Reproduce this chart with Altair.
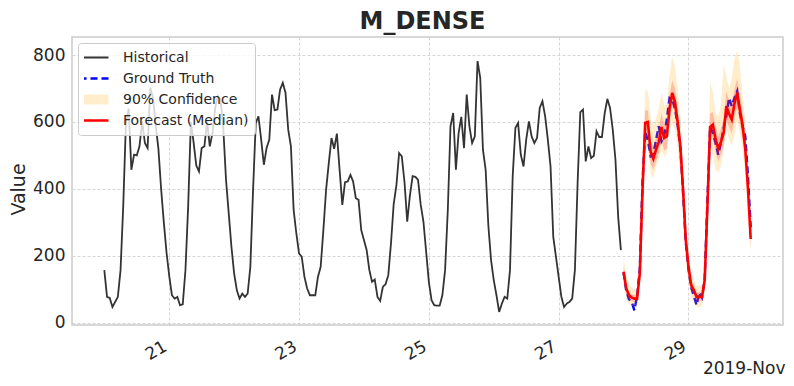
import altair as alt
import pandas as pd

TITLE = "M_DENSE"
Y_TITLE = "Value"
X_TITLE = "2019-Nov"
HIST_START = "2019-11-20 00:00"
FC_START = "2019-11-28 00:00"
X_TICK_DAYS = [21, 23, 25, 27, 29]
Y_TICKS = [0, 200, 400, 600, 800]
SERIES = ["Historical", "Ground Truth", "90% Confidence", "Forecast (Median)"]

historical = [
    157, 77, 74, 47, 62, 77, 157, 350, 600, 640, 457, 502, 500, 527, 602, 537, 522, 702, 672, 590, 520, 400, 300, 210,
    140, 82, 72, 77, 52, 55, 157, 347, 600, 540, 470, 452, 522, 527, 602, 527, 567, 642, 677, 665, 580, 427, 327, 227,
    147, 97, 72, 87, 77, 87, 167, 397, 597, 617, 547, 472, 522, 547, 682, 635, 637, 697, 717, 687, 577, 527, 337, 267,
    207, 197, 137, 102, 82, 82, 82, 137, 167, 277, 397, 477, 552, 520, 565, 457, 352, 420, 422, 442, 422, 372, 367, 277,
    247, 217, 157, 122, 129, 77, 65, 107, 115, 142, 237, 355, 410, 507, 497, 420, 302, 380, 438, 436, 427, 352, 302, 212,
    122, 67, 52, 51, 51, 82, 157, 335, 587, 627, 457, 567, 615, 522, 682, 587, 537, 557, 782, 732, 517, 457, 290, 187,
    127, 82, 32, 57, 77, 72, 157, 437, 582, 597, 502, 467, 547, 602, 557, 537, 552, 642, 662, 617, 547, 467, 257, 197,
    137, 77, 47, 57, 62, 72, 157, 417, 629, 637, 482, 527, 492, 499, 572, 555, 555, 625, 669, 642, 577, 487, 317, 217,
]
ground_truth = [
    150, 95, 70, 62, 37, 80, 160, 420, 570, 545, 497, 502, 547, 587, 542, 557, 610, 672, 667, 640, 590, 520, 390, 240,
    160, 105, 80, 52, 90, 75, 130, 360, 585, 567, 537, 502, 537, 582, 617, 672, 647, 672, 692, 627, 587, 557, 437, 285,
]
median = [
    152, 102, 82, 75, 72, 72, 147, 397, 597, 600, 510, 490, 517, 540, 585, 552, 557, 640, 687, 660, 600, 527, 397, 247,
    167, 112, 97, 77, 77, 77, 127, 347, 585, 592, 550, 520, 540, 567, 647, 625, 607, 655, 687, 637, 590, 520, 400, 250,
]
q95 = [
    195, 140, 115, 105, 100, 105, 190, 470, 697, 692, 617, 587, 610, 640, 690, 650, 650, 740, 795, 765, 700, 610, 470, 300,
    210, 150, 130, 110, 110, 110, 170, 420, 717, 690, 630, 615, 650, 772, 737, 700, 730, 790, 815, 767, 680, 600, 470, 300,
]
q05 = [
    115, 70, 55, 50, 48, 50, 110, 330, 530, 520, 447, 432, 467, 487, 517, 497, 507, 577, 597, 577, 520, 440, 320, 190,
    120, 75, 60, 48, 45, 48, 90, 290, 530, 497, 460, 447, 470, 517, 580, 547, 530, 560, 605, 567, 517, 447, 340, 205,
]
q75 = [
    170, 115, 92, 85, 82, 83, 165, 430, 635, 635, 545, 525, 553, 578, 625, 590, 595, 680, 725, 700, 637, 560, 430, 275,
    185, 127, 110, 90, 90, 90, 145, 380, 625, 630, 588, 558, 580, 610, 690, 665, 650, 698, 730, 680, 630, 560, 435, 275,
]
q25 = [
    135, 88, 70, 64, 62, 62, 130, 365, 560, 560, 475, 457, 482, 505, 548, 515, 520, 600, 650, 622, 563, 493, 365, 220,
    148, 97, 83, 64, 64, 64, 110, 315, 545, 555, 512, 482, 502, 525, 605, 585, 565, 612, 645, 595, 550, 480, 365, 225,
]

fmt = "%Y-%m-%dT%H:%M:%S"
hist_t = pd.date_range(HIST_START, periods=len(historical), freq="h").strftime(fmt)
fc_t = pd.date_range(FC_START, periods=len(median), freq="h").strftime(fmt)

lines_a = pd.concat([
    pd.DataFrame({"t": hist_t, "value": historical, "series": "Historical"}),
    pd.DataFrame({"t": fc_t, "value": ground_truth, "series": "Ground Truth"}),
])
lines_b = pd.DataFrame({"t": fc_t, "value": median, "series": "Forecast (Median)"})
bands = pd.DataFrame({"t": fc_t, "q05": q05, "q95": q95, "q25": q25, "q75": q75})

x_enc = alt.X(
    "t:T",
    scale=alt.Scale(domain=[
        alt.DateTime(year=2019, month=11, date=19, hours=12, minutes=3),
        alt.DateTime(year=2019, month=11, date=30, hours=10, minutes=57),
    ]),
    axis=alt.Axis(
        values=[alt.DateTime(year=2019, month=11, date=d) for d in X_TICK_DAYS],
        format="%d", labelAngle=330, labelAlign="right", labelBaseline="top",
        labelOffset=-8, labelPadding=13,
        title=X_TITLE, titleX=713, titleY=52, titleAlign="right",
        titleBaseline="bottom", titleFontSize=17, titleAngle=0,
    ),
)

def y_enc(field):
    return alt.Y(
        field,
        scale=alt.Scale(domain=[-7, 854], nice=False, zero=False),
        axis=alt.Axis(
            values=Y_TICKS, title=Y_TITLE, titleFontSize=19, titleX=-54, titleY=152,
            titleAngle=270, titleAlign="center", titleBaseline="middle",
            labelPadding=7,
        ),
    )

color_scale = alt.Scale(domain=SERIES, range=["#333333", "#0000ff", "#ffedcc", "#ff0000"])
dash_scale = alt.Scale(domain=SERIES, range=[[1, 0], [7, 4], [1, 0], [1, 0]])
width_scale = alt.Scale(type="ordinal", domain=SERIES, range=[1.8, 2.4, 10, 2.6])

def line_layer(df):
    return alt.Chart(df).mark_line().encode(
        x=x_enc,
        y=y_enc("value:Q"),
        color=alt.Color("series:N", scale=color_scale, legend=alt.Legend(title=None)),
        strokeDash=alt.StrokeDash("series:N", scale=dash_scale, legend=alt.Legend(title=None)),
        strokeWidth=alt.StrokeWidth("series:N", scale=width_scale, legend=alt.Legend(title=None)),
    )

outer = alt.Chart(bands).mark_area(color="#ffa500", opacity=0.2).encode(
    x=x_enc, y=y_enc("q05:Q"), y2="q95:Q"
)
inner = alt.Chart(bands).mark_area(color="#ff0000", opacity=0.2).encode(
    x=x_enc, y=y_enc("q25:Q"), y2="q75:Q"
)

chart = alt.layer(line_layer(lines_a), outer, inner, line_layer(lines_b)).properties(
    width=711, height=288,
    autosize=alt.AutoSizeParams(type="none"),
    padding={"left": 64, "top": 29, "right": 3, "bottom": 53},
    title=alt.TitleParams(
        TITLE, fontSize=24, fontWeight="bold", font="DejaVu Sans", anchor="middle",
        frame="group", offset=3, color="#262626", dx=-5,
    ),
).configure(
    font="DejaVu Sans"
).configure_view(
    stroke="#cccccc", strokeWidth=1.5
).configure_axis(
    grid=True, gridColor="#cccccc", gridDash=[3, 2], gridWidth=0.8,
    domain=False, ticks=False,
    labelFont="DejaVu Sans", labelFontSize=17, labelColor="#262626",
    titleFont="DejaVu Sans", titleColor="#262626", titleFontWeight="normal",
).configure_legend(
    orient="top-left", offset=6, padding=6,
    fillColor="rgba(255,255,255,0.8)", strokeColor="#cccccc", cornerRadius=3,
    labelFont="DejaVu Sans", labelFontSize=14, labelColor="#262626",
    symbolType="M-2.9,0H2.9", symbolSize=100, symbolOffset=0,
    clipHeight=17, rowPadding=4, labelOffset=19,
)

chart.save("out.html", embed_options={"renderer": "svg", "actions": False})
